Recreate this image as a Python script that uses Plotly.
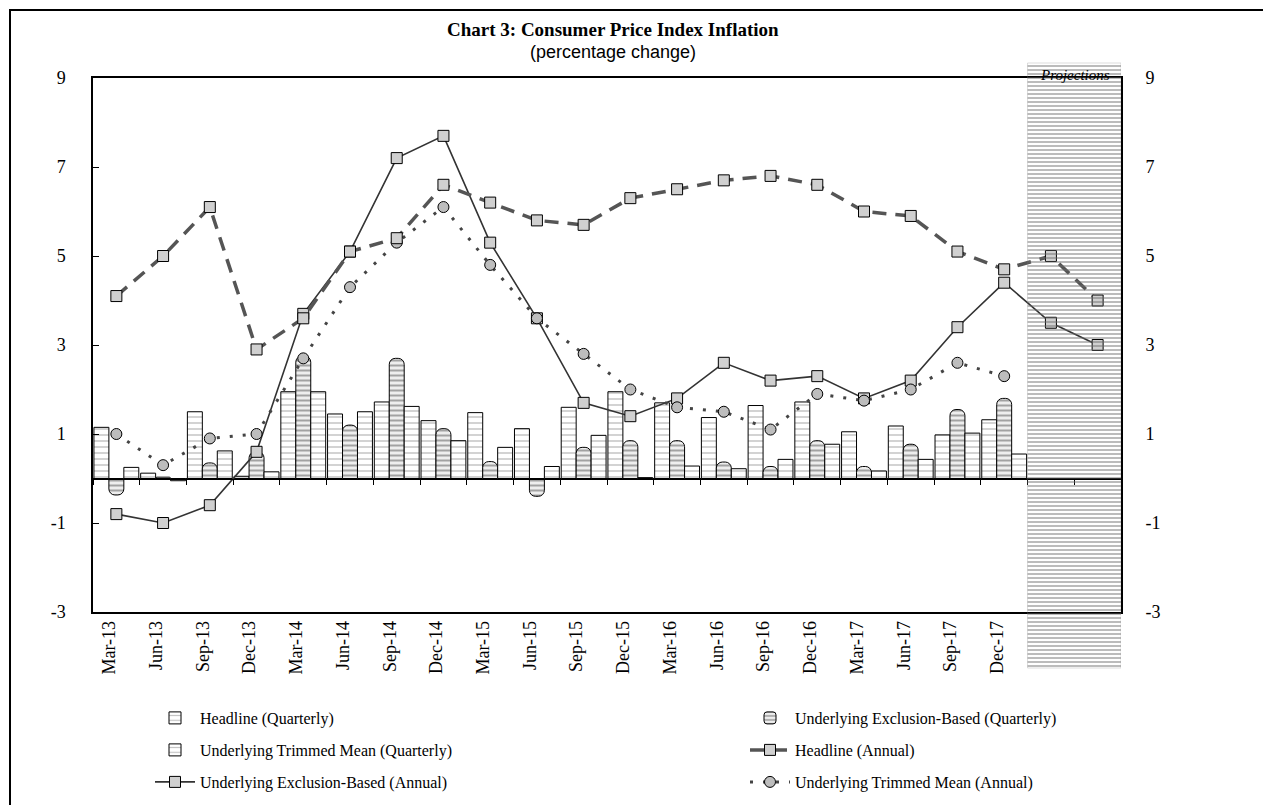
import plotly.graph_objects as go

# ---------------- data ----------------
quarters = ["Mar-13", "Jun-13", "Sep-13", "Dec-13", "Mar-14", "Jun-14", "Sep-14", "Dec-14",
            "Mar-15", "Jun-15", "Sep-15", "Dec-15", "Mar-16", "Jun-16", "Sep-16", "Dec-16",
            "Mar-17", "Jun-17", "Sep-17", "Dec-17"]
projection_quarters = ["Mar-18", "Jun-18"]
categories = quarters + projection_quarters

headline_q = [1.15, 0.12, 1.5, 0.05, 1.95, 1.45, 1.72, 1.3, 1.48, 1.12, 1.6, 1.95,
              1.7, 1.37, 1.64, 1.72, 1.05, 1.18, 0.98, 1.32, None, None]
exclusion_q = [-0.37, 0.03, 0.35, 0.6, 2.75, 1.2, 2.7, 1.12, 0.38, -0.4, 0.7, 0.85,
               0.85, 0.37, 0.27, 0.85, 0.27, 0.77, 1.55, 1.8, None, None]
trimmed_q = [0.25, -0.05, 0.62, 0.15, 1.95, 1.5, 1.62, 0.85, 0.7, 0.27, 0.97, 0.02,
             0.28, 0.22, 0.43, 0.77, 0.17, 0.43, 1.02, 0.55, None, None]

headline_a = [4.1, 5.0, 6.1, 2.9, 3.6, 5.1, 5.4, 6.6, 6.2, 5.8, 5.7, 6.3,
              6.5, 6.7, 6.8, 6.6, 6.0, 5.9, 5.1, 4.7, 5.0, 4.0]
exclusion_a = [-0.8, -1.0, -0.6, 0.6, 3.7, 5.1, 7.2, 7.7, 5.3, 3.6, 1.7, 1.4,
               1.8, 2.6, 2.2, 2.3, 1.8, 2.2, 3.4, 4.4, 3.5, 3.0]
trimmed_a = [1.0, 0.3, 0.9, 1.0, 2.7, 4.3, 5.3, 6.1, 4.8, 3.6, 2.8, 2.0,
             1.6, 1.5, 1.1, 1.9, 1.75, 2.0, 2.6, 2.3, None, None]

y_ticks = [-3, -1, 1, 3, 5, 7, 9]
y_ticktext = ["-3", "-1", "1", "3", "5", "7", "9"]

title_text = "Chart 3: Consumer Price Index Inflation"
subtitle_text = "(percentage change)"
projection_label = "Projections"

# ---------------- geometry / styling ----------------
SERIF = "Liberation Serif"
SANS = "Liberation Sans"
n_cat = len(categories)
x_range = [-0.5, n_cat - 0.5]
y_range = [-3, 9]

OFF = 8  # page body margin
W, H = 1263, 797
ml, mt = 85, 52
plot_w, plot_h = 1028, 610
mr = W - ml - plot_w
mb = H - mt - plot_h


def px_x(px):
    return (px - OFF - ml) / plot_w


def px_y(py):
    return (mt + plot_h - (py - OFF)) / plot_h


y_dom = [px_y(612), px_y(78)]
zero_pos = y_dom[0] + (0 - y_range[0]) / (y_range[1] - y_range[0]) * (y_dom[1] - y_dom[0])

fig = go.Figure()

# projections hatched band (own subplot spanning the whole plotting area, transparent bg)
proj_start = len(quarters) - 0.5
proj_end = n_cat - 0.5
fig.add_trace(go.Scatter(
    x=[proj_start, proj_end, proj_end, proj_start, proj_start],
    y=[px_y(668), px_y(668), px_y(63), px_y(63), px_y(668)],
    xaxis="x2", yaxis="y2", mode="lines", fill="toself",
    line=dict(width=0.5, color="rgba(120,120,120,0.5)"),
    fillpattern=dict(shape="-", fgcolor="#6a6a6a", bgcolor="rgba(255,255,255,0)", size=4, solidity=0.45),
    showlegend=False, hoverinfo="skip"))

bar_line = dict(color="black", width=1)
fig.add_trace(go.Bar(
    x=categories, y=headline_q, name="Headline (Quarterly)",
    marker=dict(color="white", line=bar_line,
                pattern=dict(shape="-", fgcolor="#8a8a8a", bgcolor="white", size=6, solidity=0.25)),
    legend="legend"))
fig.add_trace(go.Bar(
    x=categories, y=exclusion_q, name="Underlying Exclusion-Based (Quarterly)",
    marker=dict(color="white", line=bar_line, cornerradius=6,
                pattern=dict(shape="-", fgcolor="#555555", bgcolor="#eeeeee", size=5, solidity=0.4)),
    legend="legend2"))
fig.add_trace(go.Bar(
    x=categories, y=trimmed_q, name="Underlying Trimmed Mean (Quarterly)",
    marker=dict(color="white", line=bar_line,
                pattern=dict(shape="-", fgcolor="#8a8a8a", bgcolor="white", size=6, solidity=0.25)),
    legend="legend3"))

fig.add_trace(go.Scatter(
    x=categories, y=headline_a, name="Headline (Annual)", mode="lines+markers",
    xaxis="x3",
    line=dict(color="#555555", width=3.5, dash="14px,9px"),
    marker=dict(symbol="square", size=11, color="#d0d0d0", line=dict(color="black", width=1)),
    legend="legend4"))
fig.add_trace(go.Scatter(
    x=categories, y=exclusion_a, name="Underlying Exclusion-Based (Annual)", mode="lines+markers",
    line=dict(color="#333333", width=1.6),
    marker=dict(symbol="square", size=11, color="#d0d0d0", line=dict(color="black", width=1)),
    legend="legend5"))
fig.add_trace(go.Scatter(
    x=categories, y=trimmed_a, name="Underlying Trimmed Mean (Annual)", mode="lines+markers",
    yaxis="y3",
    line=dict(color="#444444", width=3, dash="3px,10px"),
    marker=dict(symbol="circle", size=11, color="#bdbdbd", line=dict(color="black", width=1)),
    legend="legend6"))

tick_font = dict(family=SERIF, size=18, color="black")
legend_font = dict(family=SERIF, size=16, color="black")


def legend_at(xpx, ypx):
    return dict(orientation="v", x=px_x(xpx), y=px_y(ypx), xanchor="left", yanchor="middle",
                font=legend_font, itemwidth=40, bgcolor="rgba(0,0,0,0)", borderwidth=0)


fig.update_layout(
    width=W, height=H,
    margin=dict(l=ml, r=mr, t=mt, b=mb, autoexpand=False),
    paper_bgcolor="white", plot_bgcolor="rgba(0,0,0,0)",
    barmode="group", bargap=0.04, bargroupgap=0,
    showlegend=True,
    xaxis=dict(type="category", categoryarray=categories, categoryorder="array",
               range=x_range, domain=[0, 1], anchor="y",
               tickvals=quarters, ticktext=quarters, tickangle=-90, ticklabelshift=-7,
               tickfont=dict(family=SERIF, size=18, color="black"),
               showline=True, linecolor="black", linewidth=1.5, mirror=True,
               ticks="", showgrid=False, zeroline=False),
    xaxis3=dict(type="category", categoryarray=categories, categoryorder="array",
                overlaying="x", anchor="free", position=zero_pos, side="bottom",
                range=x_range, showline=True, linecolor="black", linewidth=1.2,
                ticks="outside", tickson="boundaries", ticklen=5, tickcolor="black",
                showticklabels=False, showgrid=False, zeroline=False),
    yaxis=dict(domain=y_dom, range=y_range, anchor="x",
               tickvals=y_ticks, ticktext=y_ticktext, tickfont=tick_font,
               showline=True, linecolor="black", linewidth=1.5, mirror=True,
               ticks="inside", ticklen=6, tickcolor="black", ticklabelstandoff=22,
               showgrid=False, zeroline=True, zerolinecolor="black", zerolinewidth=1.2),
    yaxis3=dict(overlaying="y", side="right", range=y_range, anchor="x",
                tickvals=y_ticks, ticktext=y_ticktext, tickfont=tick_font,
                showgrid=False, zeroline=False,
                showline=False, ticks="outside", ticklen=20, tickcolor="rgba(0,0,0,0)"),
    xaxis2=dict(domain=[0, 1], range=x_range, anchor="y2", visible=False, fixedrange=True),
    yaxis2=dict(domain=[0, 1], range=[0, 1], anchor="x2", visible=False, fixedrange=True),
    legend=legend_at(150, 718),
    legend3=legend_at(150, 750),
    legend5=legend_at(150, 782),
    legend2=legend_at(745, 718),
    legend4=legend_at(745, 750),
    legend6=legend_at(745, 782),
    annotations=[
        dict(text="<b>" + title_text + "</b>", xref="paper", yref="paper",
             x=px_x(613), y=px_y(30), xanchor="center", yanchor="middle",
             showarrow=False, font=dict(family=SERIF, size=19, color="black")),
        dict(text=subtitle_text, xref="paper", yref="paper",
             x=px_x(613), y=px_y(52), xanchor="center", yanchor="middle",
             showarrow=False, font=dict(family=SANS, size=18, color="black")),
        dict(text="<i>" + projection_label + "</i>", xref="paper", yref="paper",
             x=px_x(1075), y=px_y(75), xanchor="center", yanchor="middle",
             showarrow=False, font=dict(family=SERIF, size=15, color="black")),
    ],
    shapes=[
        dict(type="line", xref="paper", yref="paper",
             x0=px_x(9), x1=px_x(1271), y0=px_y(10), y1=px_y(10),
             line=dict(color="black", width=2)),
        dict(type="line", xref="paper", yref="paper",
             x0=px_x(10), x1=px_x(10), y0=px_y(10), y1=px_y(805),
             line=dict(color="black", width=2)),
    ],
)

fig.write_html("out.html")
